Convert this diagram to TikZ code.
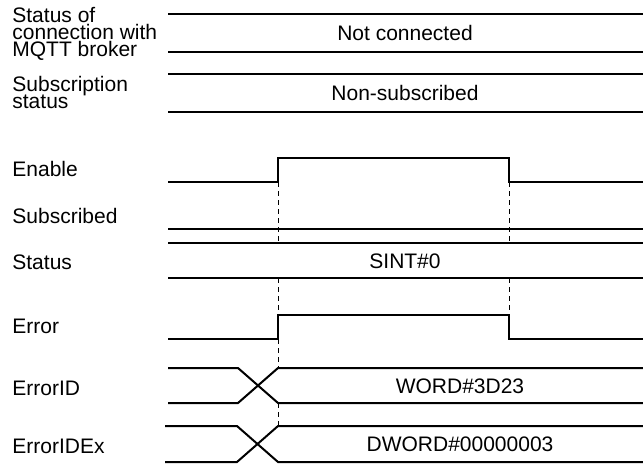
\documentclass[tikz,border=0pt]{standalone}
\usepackage{fontspec}
\setmainfont{Liberation Sans}
\newcommand\lblfont{\fontsize{10.5}{8.5}\selectfont\setlength{\lineskiplimit}{-10pt}}
\begin{document}
\begin{tikzpicture}[x=0.5pt,y=-0.5pt,
  wave/.style={line width=1pt},
  guide/.style={line width=0.5pt,dash pattern=on 2.5pt off 2pt},
  lbl/.style={anchor=base west,inner sep=0pt,align=left,font=\lblfont},
  val/.style={anchor=base,inner sep=0pt,font=\fontsize{10.5}{8.5}\selectfont}]
\useasboundingbox (0,0) rectangle (643,463);
\coordinate (T0) at (238,0);
\coordinate (T1) at (278,0);
\coordinate (T2) at (509,0);

% status of connection and subscription
\draw[wave] (168,14) -- (643,14);
\draw[wave] (168,52) -- (643,52);
\draw[wave] (168,74) -- (643,74);
\draw[wave] (168,112) -- (643,112);

% Enable, Subscribed, Status
\draw[wave] (168,182) -- (T1 |- 0,182) -- (T1 |- 0,158) -- (T2 |- 0,158) -- (T2 |- 0,182) -- (643,182);
\draw[wave] (168,229) -- (643,229);
\draw[wave] (168,243) -- (643,243);
\draw[wave] (168,278) -- (643,278);

% Error, ErrorID, ErrorIDEx
\draw[wave] (168,339) -- (T1 |- 0,339) -- (T1 |- 0,315) -- (T2 |- 0,315) -- (T2 |- 0,339) -- (643,339);
\draw[wave] (168,368) -- (T0 |- 0,368) -- (T1 |- 0,403) -- (643,403);
\draw[wave] (168,403) -- (T0 |- 0,403) -- (T1 |- 0,368) -- (643,368);
\draw[wave] (165,426) -- (237,426) -- (T1 |- 0,462) -- (643,462);
\draw[wave] (165,462) -- (237,462) -- (T1 |- 0,426) -- (643,426);

\draw[guide] (T1 |- 0,182) -- (T1 |- 0,243);
\draw[guide] (T1 |- 0,278) -- (T1 |- 0,315);
\draw[guide] (T1 |- 0,339) -- (T1 |- 0,368);
\draw[guide] (T1 |- 0,403) -- (T1 |- 0,426);
\draw[guide] (T2 |- 0,182) -- (T2 |- 0,243);
\draw[guide] (T2 |- 0,278) -- (T2 |- 0,315);

\node[lbl] (conn) at (12,56) {Status of\\connection with\\MQTT broker};
\node[lbl] (subst) at (12,108) {Subscription\\status};
\node[lbl] (enable) at (12,176) {Enable};
\node[lbl] (subd) at (12,223) {Subscribed};
\node[lbl] (status) at (12,269) {Status};
\node[lbl] (error) at (12,333) {Error};
\node[lbl] (errid) at (12,395) {ErrorID};
\node[lbl] (errex) at (12,453) {ErrorIDEx};

\node[val] (vconn) at (405,40) {Not connected};
\node[val] (vsub) at (405,100) {Non-subscribed};
\node[val] (vstat) at (405,268) {SINT\#0};
\node[val] (vid) at (460,393) {WORD\#3D23};
\node[val] (vex) at (460,451) {DWORD\#00000003};
\end{tikzpicture}
\end{document}
